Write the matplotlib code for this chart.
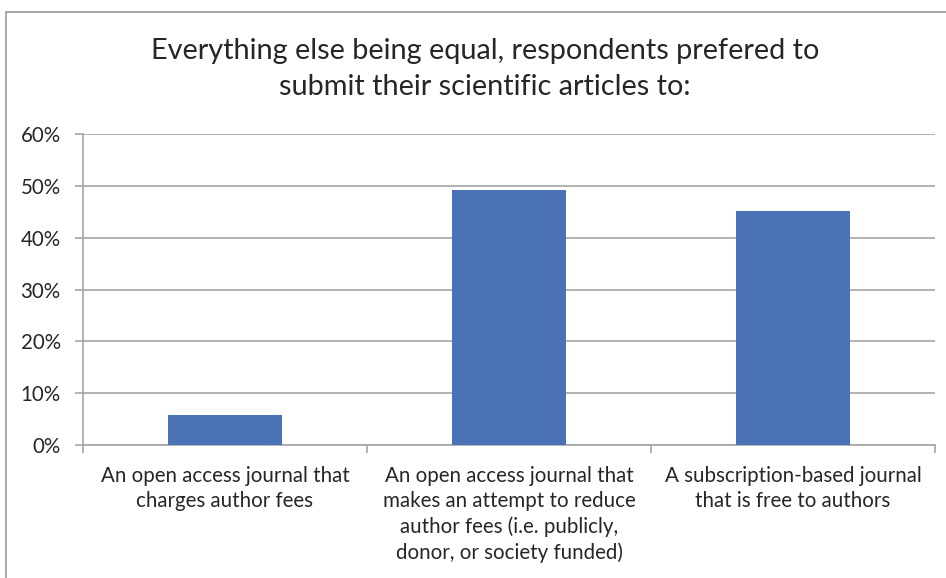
import matplotlib.pyplot as plt
from matplotlib.patches import Rectangle
from matplotlib.ticker import PercentFormatter
import numpy as np

plt.rcParams['font.family'] = ['Lato', 'DejaVu Sans']

categories = [
    'An open access journal that\ncharges author fees',
    'An open access journal that\nmakes an attempt to reduce\nauthor fees (i.e. publicly,\ndonor, or society funded)',
    'A subscription-based journal\nthat is free to authors',
]
shares = [5.7, 49.2, 45.2]
y_ticks = [0, 10, 20, 30, 40, 50, 60]

W, H = 946, 578
fig = plt.figure(figsize=(W / 100, H / 100), dpi=100)
ax = fig.add_axes([83 / W, 1 - 445 / H, (935 - 83) / W, (445 - 134) / H])

grid_col = '#a6a6a6'
x = np.arange(len(categories))
ax.bar(x, shares, width=0.4, color='#4a72b5', zorder=3)

ax.set_xlim(-0.5, len(categories) - 0.5)
ax.set_ylim(0, 60)
ax.set_yticks(y_ticks)
ax.yaxis.set_major_formatter(PercentFormatter(decimals=0))
ax.yaxis.grid(True, color=grid_col, linewidth=1.2, zorder=0)

# x ticks at category boundaries, labels centred under bars
ax.set_xticks(np.arange(-0.5, len(categories)), minor=False)
ax.set_xticklabels([])
ax.set_xticks(x, minor=True)
ax.set_xticklabels(categories, minor=True, fontsize=14.8, color='#262626', linespacing=1.33)
ax.tick_params(axis='x', which='minor', length=0, pad=15)
ax.tick_params(axis='x', which='major', length=6, color=grid_col, width=1.2)
ax.tick_params(axis='y', length=6, color=grid_col, width=1.2, labelsize=14.8,
               labelcolor='#262626', pad=10)

for side in ['top', 'right']:
    ax.spines[side].set_visible(False)
for side in ['left', 'bottom']:
    ax.spines[side].set_color(grid_col)
    ax.spines[side].set_linewidth(1.2)

fig.text(485 / W, 1 - 69 / H,
         'Everything else being equal, respondents prefered to\nsubmit their scientific articles to:',
         ha='center', va='center', fontsize=20.8, color='#262626', linespacing=1.5)

# chart border, cut off at right and bottom
fig.patches.append(Rectangle((6 / W, -0.1), 1.1, 1 - 12 / H + 0.1, transform=fig.transFigure,
                             fill=False, edgecolor='#a0a0a0', linewidth=1.3))

fig.savefig('out.png', dpi=100)
